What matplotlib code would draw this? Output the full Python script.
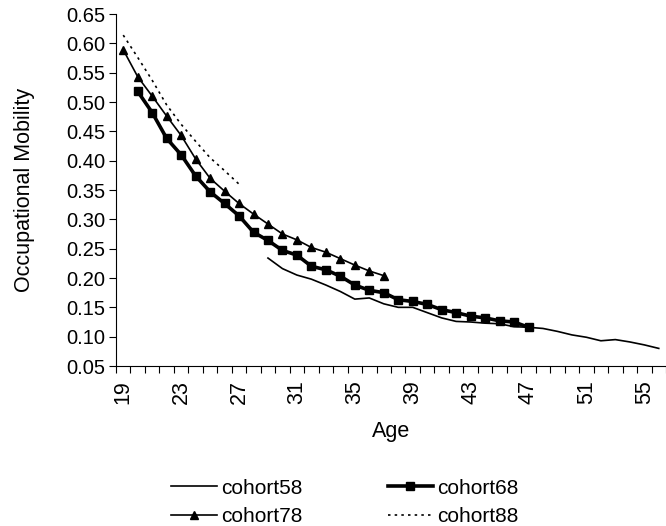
import numpy as np
import matplotlib
matplotlib.use("Agg")
import matplotlib.pyplot as plt
from matplotlib.ticker import FixedLocator, FormatStrFormatter

# ---- data ----
ages58 = list(range(29, 57))
cohort58 = [0.234, 0.216, 0.205, 0.198, 0.188, 0.177, 0.164, 0.166, 0.156, 0.150,
            0.150, 0.141, 0.132, 0.126, 0.125, 0.123, 0.122, 0.117, 0.116, 0.114,
            0.109, 0.103, 0.099, 0.093, 0.095, 0.091, 0.086, 0.080]

ages68 = list(range(20, 48))
cohort68 = [0.518, 0.482, 0.438, 0.410, 0.374, 0.347, 0.327, 0.306, 0.278, 0.264,
            0.247, 0.239, 0.220, 0.214, 0.203, 0.188, 0.179, 0.175, 0.163, 0.160,
            0.155, 0.146, 0.141, 0.135, 0.132, 0.127, 0.125, 0.116]

ages78 = list(range(19, 38))
cohort78 = [0.589, 0.543, 0.510, 0.476, 0.443, 0.403, 0.370, 0.348, 0.327, 0.309,
            0.292, 0.275, 0.265, 0.252, 0.244, 0.233, 0.222, 0.212, 0.204]

ages88 = list(range(19, 28))
cohort88 = [0.614, 0.576, 0.537, 0.495, 0.462, 0.433, 0.405, 0.383, 0.360]

xtick_ages = list(range(19, 56, 4))
yticks = np.arange(0.05, 0.651, 0.05)

# ---- style ----
plt.rcParams.update({
    "font.family": ["Liberation Sans", "DejaVu Sans"],
    "font.size": 14,
})

fig = plt.figure(figsize=(6.66, 5.26), dpi=100)
ax = fig.add_axes([116 / 666, 1 - 366 / 526, 1 - 116 / 666, (366 - 14) / 526])

l58, = ax.plot(ages58, cohort58, color="black", lw=1.2, label="cohort58")
l68, = ax.plot(ages68, cohort68, color="black", lw=2.6, marker="s", ms=5.5, label="cohort68")
l78, = ax.plot(ages78, cohort78, color="black", lw=1.2, marker="^", ms=5.5, label="cohort78")
l88, = ax.plot(ages88, cohort88, color="black", lw=1.2, linestyle=(0, (1.5, 2.5)), label="cohort88")

ax.set_xlim(18.5, 56.5)
ax.set_ylim(0.05, 0.65)

# category axis: tick marks between categories, labels every 4th age
ax.xaxis.set_major_locator(FixedLocator(xtick_ages))
ax.xaxis.set_minor_locator(FixedLocator(np.arange(18.5, 57, 1.0)))
ax.tick_params(axis="x", which="major", length=0, pad=10, labelsize=15.5, labelrotation=90)
ax.tick_params(axis="x", which="minor", length=5, direction="out", width=0.8)

ax.set_yticks(yticks)
ax.yaxis.set_major_formatter(FormatStrFormatter("%.2f"))
ax.tick_params(axis="y", length=5, direction="out", width=0.8, labelsize=14.5, pad=3)

for s in ["top", "right"]:
    ax.spines[s].set_visible(False)
for s in ["left", "bottom"]:
    ax.spines[s].set_linewidth(0.8)

ax.set_xlabel("Age", fontsize=15.5, labelpad=12)
ax.set_ylabel("Occupational Mobility", fontsize=15.5, labelpad=22)

# Excel-style legend fills row by row: 58, 68 / 78, 88
fig.legend([l58, l78, l68, l88], ["cohort58", "cohort78", "cohort68", "cohort88"],
           loc="upper left", bbox_to_anchor=(152 / 666, 1 - 460 / 526),
           ncol=2, frameon=False, fontsize=15, handlelength=2.2,
           handletextpad=0.2, columnspacing=4.1, labelspacing=0.45)

fig.savefig("out.png", dpi=100)
